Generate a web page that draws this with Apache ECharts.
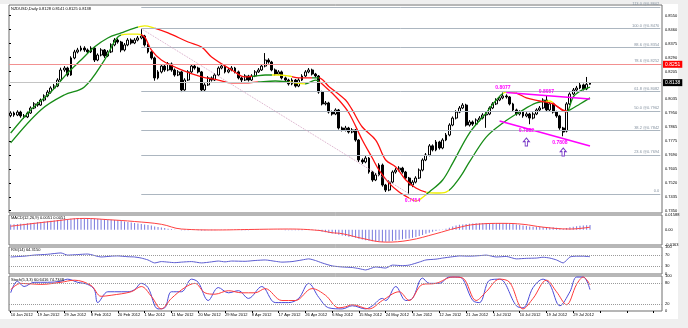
<!DOCTYPE html>
<html><head><meta charset="utf-8">
<script src="https://cdn.jsdelivr.net/npm/echarts/dist/echarts.min.js"></script>
<style>
html,body{margin:0;padding:0;background:#efefef;}
#paper{position:absolute;left:0;top:4px;width:678px;height:315px;background:#fff;}
#c{position:absolute;left:0;top:0;width:688px;height:328px;}
</style></head>
<body><div id="paper"></div><div id="c"></div>
<script>
// ---------- data ----------
const tickLabels = ['10 Jan 2012','19 Jan 2012','29 Jan 2012','8 Feb 2012','20 Feb 2012','1 Mar 2012','11 Mar 2012','20 Mar 2012','29 Mar 2012','8 Apr 2012','17 Apr 2012','26 Apr 2012','6 May 2012','15 May 2012','24 May 2012','3 Jun 2012','12 Jun 2012','21 Jun 2012','1 Jul 2012','10 Jul 2012','19 Jul 2012','29 Jul 2012'];
const priceLabels = ['0.8550','0.8460','0.8375','0.8290','0.8205','0.8120','0.8035','0.7950','0.7865','0.7775','0.7690','0.7605','0.7520','0.7435','0.7350'];

const opens = [0.7935,0.7951,0.7939,0.7957,0.7933,0.7927,0.7951,0.7982,0.8007,0.8000,
0.8031,0.8056,0.8080,0.8105,0.8117,0.8154,0.8216,0.8228,0.8185,0.8290,
0.8327,0.8339,0.8351,0.8339,0.8327,0.8351,0.8277,0.8308,0.8339,0.8302,
0.8327,0.8370,0.8400,0.8388,0.8339,0.8370,0.8400,0.8382,0.8400,0.8413,
0.8425,0.8370,0.8327,0.8290,0.8167,0.8204,0.8240,0.8216,0.8253,0.8216,
0.8185,0.8204,0.8093,0.8154,0.8204,0.8240,0.8228,0.8204,0.8093,0.8124,
0.8167,0.8154,0.8185,0.8228,0.8240,0.8204,0.8216,0.8228,0.8204,0.8167,
0.8154,0.8179,0.8154,0.8179,0.8204,0.8216,0.8240,0.8277,0.8265,0.8216,
0.8191,0.8204,0.8167,0.8154,0.8130,0.8154,0.8117,0.8154,0.8179,0.8204,
0.8216,0.8191,0.8179,0.8080,0.8007,0.8013,0.7957,0.7945,0.7970,0.7859,
0.7847,0.7859,0.7834,0.7847,0.7785,0.7662,0.7650,0.7674,0.7588,0.7539,
0.7570,0.7631,0.7508,0.7477,0.7526,0.7588,0.7600,0.7612,0.7588,0.7551,
0.7508,0.7526,0.7551,0.7600,0.7662,0.7693,0.7749,0.7724,0.7773,0.7736,
0.7785,0.7816,0.7877,0.7920,0.7957,0.7982,0.8000,0.7877,0.7896,0.7883,
0.7908,0.7920,0.7939,0.7945,0.7982,0.8007,0.8031,0.8044,0.8056,0.8050,
0.8007,0.7970,0.7945,0.7957,0.7933,0.7945,0.7920,0.7945,0.7970,0.7982,
0.8031,0.7970,0.8007,0.7957,0.7933,0.7859,0.7840,0.8007,0.8068,0.8093,
0.8105,0.8124,0.8099,0.8128];
const closes = [0.7951,0.7939,0.7957,0.7933,0.7927,0.7951,0.7982,0.8007,0.8000,0.8031,
0.8056,0.8080,0.8105,0.8117,0.8154,0.8216,0.8228,0.8185,0.8290,0.8327,
0.8339,0.8351,0.8339,0.8327,0.8351,0.8277,0.8308,0.8339,0.8302,0.8327,
0.8370,0.8400,0.8388,0.8339,0.8370,0.8400,0.8382,0.8400,0.8413,0.8425,
0.8370,0.8327,0.8290,0.8167,0.8204,0.8240,0.8216,0.8253,0.8216,0.8185,
0.8204,0.8093,0.8154,0.8204,0.8240,0.8228,0.8204,0.8093,0.8124,0.8167,
0.8154,0.8185,0.8228,0.8240,0.8204,0.8216,0.8228,0.8204,0.8167,0.8154,
0.8179,0.8154,0.8179,0.8204,0.8216,0.8240,0.8277,0.8265,0.8216,0.8191,
0.8204,0.8167,0.8154,0.8130,0.8154,0.8117,0.8154,0.8179,0.8204,0.8216,
0.8191,0.8179,0.8080,0.8007,0.8013,0.7957,0.7945,0.7970,0.7859,0.7847,
0.7859,0.7834,0.7847,0.7785,0.7662,0.7650,0.7674,0.7588,0.7539,0.7570,
0.7631,0.7508,0.7477,0.7526,0.7588,0.7600,0.7612,0.7588,0.7551,0.7508,
0.7526,0.7551,0.7600,0.7662,0.7693,0.7749,0.7724,0.7773,0.7736,0.7785,
0.7816,0.7877,0.7920,0.7957,0.7982,0.8000,0.7877,0.7896,0.7883,0.7908,
0.7920,0.7939,0.7945,0.7982,0.8007,0.8031,0.8044,0.8056,0.8050,0.8007,
0.7970,0.7945,0.7957,0.7933,0.7945,0.7920,0.7945,0.7970,0.7982,0.8031,
0.7970,0.8007,0.7957,0.7933,0.7859,0.7834,0.8007,0.8068,0.8093,0.8105,
0.8124,0.8099,0.8128,0.8138];
const highs = [0.7962,0.7960,0.7968,0.7965,0.7945,0.7960,0.7992,0.8018,0.8020,0.8040,
0.8066,0.8092,0.8115,0.8130,0.8165,0.8230,0.8240,0.8236,0.8300,0.8340,
0.8352,0.8365,0.8362,0.8348,0.8362,0.8358,0.8318,0.8350,0.8345,0.8338,
0.8380,0.8412,0.8410,0.8395,0.8382,0.8412,0.8410,0.8412,0.8425,0.8470,
0.8432,0.8378,0.8335,0.8298,0.8215,0.8252,0.8250,0.8265,0.8262,0.8225,
0.8215,0.8210,0.8165,0.8215,0.8252,0.8250,0.8236,0.8210,0.8135,0.8178,
0.8176,0.8196,0.8238,0.8252,0.8248,0.8228,0.8240,0.8235,0.8212,0.8175,
0.8190,0.8186,0.8190,0.8215,0.8228,0.8252,0.8320,0.8288,0.8272,0.8225,
0.8215,0.8212,0.8175,0.8162,0.8165,0.8160,0.8165,0.8190,0.8215,0.8228,
0.8224,0.8198,0.8185,0.8088,0.8025,0.8020,0.7966,0.7980,0.7976,0.7868,
0.7872,0.7866,0.7858,0.7852,0.7790,0.7672,0.7686,0.7680,0.7595,0.7582,
0.7642,0.7640,0.7515,0.7538,0.7598,0.7612,0.7624,0.7620,0.7595,0.7558,
0.7538,0.7562,0.7610,0.7672,0.7705,0.7760,0.7758,0.7785,0.7780,0.7796,
0.7828,0.7888,0.7930,0.7968,0.7994,0.8012,0.8008,0.7908,0.7905,0.7918,
0.7932,0.7950,0.7956,0.7992,0.8018,0.8042,0.8055,0.8077,0.8066,0.8056,
0.8014,0.7978,0.7968,0.7965,0.7956,0.7952,0.7956,0.7980,0.7994,0.8042,
0.8057,0.8018,0.8014,0.7965,0.7940,0.7866,0.8018,0.8078,0.8105,0.8118,
0.8136,0.8132,0.8173,0.8141];
const lows = [0.7925,0.7928,0.7932,0.7922,0.7915,0.7920,0.7945,0.7975,0.7990,0.7995,
0.8022,0.8048,0.8070,0.8095,0.8110,0.8145,0.8205,0.8175,0.8180,0.8282,
0.8318,0.8330,0.8328,0.8315,0.8320,0.8265,0.8270,0.8300,0.8290,0.8295,
0.8320,0.8362,0.8378,0.8325,0.8330,0.8362,0.8372,0.8375,0.8392,0.8405,
0.8360,0.8318,0.8280,0.8150,0.8158,0.8195,0.8205,0.8208,0.8205,0.8175,
0.8178,0.8080,0.8088,0.8148,0.8198,0.8218,0.8195,0.8082,0.8085,0.8118,
0.8145,0.8148,0.8180,0.8220,0.8195,0.8196,0.8208,0.8195,0.8158,0.8140,
0.8148,0.8145,0.8148,0.8172,0.8198,0.8210,0.8232,0.8255,0.8208,0.8182,
0.8184,0.8158,0.8145,0.8120,0.8122,0.8108,0.8110,0.8148,0.8172,0.8196,
0.8182,0.8170,0.8070,0.7998,0.7998,0.7948,0.7935,0.7938,0.7850,0.7838,
0.7838,0.7825,0.7826,0.7775,0.7650,0.7638,0.7642,0.7578,0.7528,0.7532,
0.7562,0.7498,0.7465,0.7470,0.7518,0.7578,0.7592,0.7578,0.7540,0.7454,
0.7495,0.7518,0.7545,0.7592,0.7655,0.7685,0.7715,0.7716,0.7726,0.7728,
0.7778,0.7808,0.7870,0.7912,0.7950,0.7975,0.7868,0.7868,0.7872,0.7875,
0.7900,0.7912,0.7860,0.7938,0.7975,0.8000,0.8024,0.8036,0.8040,0.7998,
0.7960,0.7935,0.7936,0.7922,0.7925,0.7882,0.7912,0.7938,0.7962,0.7975,
0.7962,0.7962,0.7948,0.7922,0.7848,0.7808,0.7832,0.8000,0.8060,0.8085,
0.8098,0.8090,0.8092,0.8125];

// moving averages [bar index, price]
const maSlow = [[0,0.7828],[6,0.7970],[12,0.8080],[17,0.8197],[21,0.8277],[25,0.8357],[29,0.8413],[33,0.8444],[37,0.8474],[40,0.8487],[42,0.8480],[47,0.8444],[53,0.8388],[57,0.8357],[60,0.8296],[66,0.8216],[70,0.8173],[73,0.8179],[76,0.8185],[80,0.8185],[83,0.8179],[86,0.8167],[89,0.8167],[92,0.8167],[95,0.8115],[100,0.8031],[102,0.7970],[105,0.7865],[109,0.7785],[112,0.7662],[115,0.7619],[118,0.7539],[121,0.7490],[124,0.7465],[127,0.7459],[130,0.7465],[134,0.7551],[137,0.7650],[142,0.7803],[147,0.7890],[152,0.7957],[157,0.8013],[161,0.8025],[163,0.7994],[166,0.7964],[167,0.7970],[170,0.8007],[173,0.8044]];
const maFast = [[0,0.7767],[9,0.7970],[16,0.8062],[22,0.8111],[28,0.8277],[32,0.8419],[35,0.8437],[38,0.8437],[40,0.8419],[42,0.8339],[45,0.8277],[51,0.8216],[57,0.8173],[62,0.8154],[66,0.8136],[70,0.8136],[74,0.8142],[79,0.8148],[83,0.8142],[88,0.8130],[91,0.8154],[94,0.8111],[98,0.8031],[101,0.7951],[105,0.7785],[108,0.7674],[110,0.7600],[113,0.7520],[116,0.7465],[119,0.7428],[121,0.7410],[122,0.7416],[125,0.7465],[129,0.7539],[132,0.7643],[137,0.7828],[142,0.7951],[145,0.8031],[148,0.8080],[151,0.8074],[154,0.8044],[158,0.8025],[162,0.8007],[165,0.7964],[166,0.7958],[168,0.8050],[170,0.8086],[173,0.8111]];
const slowTurns = [38,43,72,78,84,90,92,124,131,160,162,166];
const slowStates = ['g','y','r','g','y','r','g','r','y','g','y','r','g'];
const fastTurns = [33,39,74,83,88,92,119,124,147,151,166];
const fastStates = ['g','y','r','g','y','g','r','y','g','y','r','g'];

// trend lines and annotations
const upperTrend = [[148,0.8077],[173,0.8037]];
const lowerTrend = [[146,0.7902],[173,0.7748]];
const highMarks = [[147,0.8077],[160,0.8057]];
const lowMarks = [[154,0.7882],[164,0.7808],[120,0.7454]];
const arrowMarks = [[154,0.7773],[165,0.7711]];

// fibonacci
const fibStart = 39, fibEnd = 119;
const fibHigh = 0.8470, fibLow = 0.7454;
const fibPrices = [0.8602,0.8470,0.8354,0.8252,0.8082,0.7962,0.7842,0.7694,0.7454];
const fibTexts = ['113.0 @0.8602','100.0 @0.8470','88.6 @0.8354','78.6 @0.8252','61.8 @0.8082','50.0 @0.7962','38.2 @0.7842','23.6 @0.7694','0.0'];
const redLevel = 0.8251;
const bidLevel = 0.8138;

// indicators
const macdHist = [0.0058,0.0060,0.0062,0.0064,0.0066,0.0069,0.0072,0.0076,0.0080,0.0084,
0.0088,0.0092,0.0096,0.0100,0.0104,0.0110,0.0114,0.0115,0.0119,0.0122,
0.0124,0.0125,0.0125,0.0124,0.0123,0.0119,0.0117,0.0115,0.0112,0.0110,
0.0108,0.0106,0.0102,0.0096,0.0090,0.0084,0.0078,0.0073,0.0068,0.0063,
0.0058,0.0052,0.0045,0.0036,0.0030,0.0024,0.0018,0.0012,0.0007,0.0003,
0.0000,-0.0004,-0.0005,-0.0004,-0.0003,-0.0003,-0.0004,-0.0007,-0.0007,-0.0006,
-0.0005,-0.0004,-0.0003,-0.0002,-0.0002,-0.0002,-0.0001,-0.0002,-0.0003,-0.0004,
-0.0004,-0.0004,-0.0003,-0.0002,-0.0002,-0.0001,0.0001,0.0001,0.0000,-0.0001,
-0.0002,-0.0003,-0.0004,-0.0005,-0.0005,-0.0006,-0.0005,-0.0004,-0.0003,-0.0003,
-0.0003,-0.0005,-0.0012,-0.0020,-0.0027,-0.0034,-0.0040,-0.0044,-0.0054,-0.0062,
-0.0068,-0.0074,-0.0079,-0.0087,-0.0098,-0.0106,-0.0112,-0.0118,-0.0124,-0.0127,
-0.0130,-0.0132,-0.0130,-0.0125,-0.0120,-0.0114,-0.0108,-0.0102,-0.0097,-0.0093,
-0.0086,-0.0078,-0.0068,-0.0056,-0.0044,-0.0032,-0.0022,-0.0013,-0.0005,0.0002,
0.0012,0.0022,0.0035,0.0045,0.0053,0.0058,0.0062,0.0066,0.0068,0.0070,
0.0071,0.0072,0.0073,0.0073,0.0074,0.0074,0.0074,0.0073,0.0071,0.0068,
0.0064,0.0058,0.0052,0.0046,0.0040,0.0035,0.0032,0.0030,0.0029,0.0029,
0.0028,0.0028,0.0026,0.0022,0.0016,0.0010,0.0018,0.0026,0.0033,0.0038,
0.0042,0.0046,0.0049,0.0051];
const macdSignal = [[0,0.0038],[12,0.0089],[22,0.0122],[29,0.0109],[37,0.0089],[45,0.0059],[51,0.0008],[62,-0.0002],[71,0.0003],[83,0.0008],[92,-0.0007],[96,-0.0032],[99,-0.0042],[105,-0.0093],[112,-0.0133],[119,-0.0113],[127,-0.0042],[133,0.0018],[139,0.0059],[147,0.0069],[153,0.0059],[159,0.0028],[167,0.0008],[173,0.0028]];
const rsi = [[0,63],[4,66],[7,70],[11,73],[15,78],[17,70],[20,72],[23,74],[27,63],[30,66],[32,67],[35,64],[37,63],[39,59],[41,52],[43,41],[45,46],[47,44],[49,42],[51,44],[54,46],[57,41],[60,45],[62,48],[64,45],[66,48],[70,47],[73,50],[76,52],[79,47],[81,44],[84,46],[87,52],[89,56],[91,50],[93,41],[96,30],[99,26],[102,24],[104,20],[106,15],[109,26],[112,22],[114,33],[117,31],[119,33],[122,44],[124,52],[127,55],[129,59],[132,64],[134,67],[137,66],[140,68],[142,70],[145,63],[148,65],[151,56],[154,58],[157,59],[159,62],[161,59],[163,52],[165,41],[167,63],[169,66],[171,66],[173,64]];
const stochMain = [[0,52],[2,85],[4,70],[7,82],[11,82],[15,85],[17,91],[20,82],[23,76],[25,61],[26,24],[29,55],[31,55],[35,55],[37,61],[39,79],[41,67],[44,6],[46,9],[48,55],[51,55],[54,91],[56,82],[59,30],[62,67],[65,52],[68,58],[71,36],[75,70],[79,24],[83,24],[86,36],[89,79],[92,39],[95,9],[99,6],[102,15],[106,6],[108,15],[111,36],[112,30],[115,70],[118,30],[120,36],[123,94],[125,79],[128,79],[131,97],[134,97],[138,30],[140,24],[143,88],[146,91],[151,15],[153,9],[156,67],[159,91],[161,76],[164,15],[167,55],[169,97],[171,97],[173,61]];
const stochSignal = [[0,61],[3,79],[9,76],[15,82],[19,88],[24,73],[27,42],[30,45],[36,55],[39,70],[42,42],[45,6],[48,36],[52,67],[55,79],[58,52],[61,48],[65,58],[69,52],[73,52],[76,64],[81,30],[85,30],[90,64],[94,45],[98,9],[100,12],[102,18],[107,6],[111,30],[116,55],[119,30],[123,76],[127,79],[132,97],[135,94],[139,30],[142,55],[146,91],[149,82],[153,6],[156,36],[160,88],[163,55],[166,18],[169,76],[171,97],[173,75]];

// ---------- chart ----------
const FONT = 'Liberation Sans, Arial, sans-serif';
const N = 195;
const categories = Array.from({length: N}, (_, i) => String(i));
const candles = opens.map((o, i) => [o, closes[i], lows[i], highs[i]]);
const GREEN = '#178c17', RED = '#ff1010', YELLOW = '#eeee00';
function pieces(turns, states) {
  const col = {g: GREEN, y: YELLOW, r: RED};
  return states.map((s, k) => {
    const p = {color: col[s]};
    if (k > 0) p.gte = turns[k - 1];
    if (k < turns.length) p.lt = turns[k];
    return p;
  });
}
const L = 9, R = 26;
const grids = [
  {left: L, right: R, top: 5, height: 208},
  {left: L, right: R, top: 215, height: 30},
  {left: L, right: R, top: 247, height: 27},
  {left: L, right: R, top: 276, height: 35}
].map(g => Object.assign({show: true, borderColor: '#6e6e6e', borderWidth: 1, backgroundColor: 'transparent'}, g));
grids.push({left: L, right: R, top: 15.70, height: 195.0, show: false});

function catAxis(gi, showLabels) {
  return {
    type: 'category', gridIndex: gi, data: categories, boundaryGap: true,
    axisLine: {show: false},
    axisTick: {show: showLabels, interval: 7, alignWithLabel: true, length: 2, lineStyle: {color: '#000'}},
    axisLabel: {show: showLabels, interval: 7, align: 'left', fontSize: 4, color: '#000', margin: 2, fontFamily: FONT,
      formatter: (v, idx) => (idx % 8 === 0 && idx / 8 < tickLabels.length) ? tickLabels[idx / 8] : ''},
    splitLine: {show: false}
  };
}
const smallLbl = {fontSize: 4, color: '#000', fontFamily: FONT, margin: 3};

const fibMarkData = fibPrices.map((p, k) => [
  {coord: [fibStart, p], label: {formatter: fibTexts[k]}},
  {coord: [N - 1, p]}
]);
fibMarkData.push([
  {coord: [fibStart, fibHigh], lineStyle: {type: 'dotted', color: '#d6a8c6'}, label: {show: false}},
  {coord: [fibEnd, fibLow]}
]);
fibMarkData.push({yAxis: bidLevel, lineStyle: {color: '#c4c4c4'},
  label: {position: 'end', formatter: '0.8138', backgroundColor: '#000', color: '#fff', padding: [1, 2], fontSize: 5, distance: 1}});
fibMarkData.push({yAxis: redLevel, lineStyle: {color: '#f29090'},
  label: {position: 'end', formatter: '0.8251', backgroundColor: '#ff0000', color: '#fff', padding: [1, 2], fontSize: 5, distance: 1}});

const arrowPath = 'path://M5,0 L10,5 L7,5 L7,11 L3,11 L3,5 L0,5 Z';

const option = {
  animation: false,
  backgroundColor: 'transparent',
  textStyle: {fontFamily: FONT},
  title: [
    {text: 'NZDUSD,Daily 0.8128 0.8141 0.8125 0.8138', left: 11, top: 7},
    {text: 'MACD(12,26,9) 0.0051 0.0051', left: 11, top: 216},
    {text: 'RSI(14) 64.3150', left: 11, top: 248},
    {text: 'Stoch(5,3,3) 60.6416 74.7348', left: 11, top: 278}
  ].map(t => Object.assign({padding: 0, textStyle: {fontSize: 4, color: '#000', fontWeight: 'normal', fontFamily: FONT}}, t)),
  grid: grids,
  xAxis: [catAxis(0, false), catAxis(1, false), catAxis(2, false), catAxis(3, true),
    {type: 'value', gridIndex: 4, show: false, min: 0, max: 1}],
  yAxis: [
    {type: 'value', gridIndex: 0, min: 0.733585, max: 0.86158, show: false, scale: true},
    {type: 'value', gridIndex: 1, position: 'right', min: -0.0164, max: 0.0159, interval: 0.0164,
      axisLine: {show: false}, axisTick: {show: false}, splitLine: {show: false},
      axisLabel: Object.assign({showMinLabel: true, showMaxLabel: true,
        formatter: v => Math.abs(v) < 1e-7 ? '0.00' : (v > 0 ? '0.01588' : '-0.0163')}, smallLbl)},
    {type: 'value', gridIndex: 2, position: 'right', min: 0, max: 100, interval: 10,
      axisLine: {show: false}, axisTick: {show: false}, splitLine: {show: false},
      axisLabel: Object.assign({formatter: v => [0, 30, 70, 100].includes(Math.round(v)) ? String(Math.round(v)) : ''}, smallLbl)},
    {type: 'value', gridIndex: 3, position: 'right', min: 0, max: 100, interval: 10,
      axisLine: {show: false}, axisTick: {show: false}, splitLine: {show: false},
      axisLabel: Object.assign({formatter: v => [0, 20, 80, 100].includes(Math.round(v)) ? String(Math.round(v)) : ''}, smallLbl)},
    {type: 'value', gridIndex: 4, position: 'right', min: 0, max: 14, interval: 1,
      axisLine: {show: false}, axisTick: {show: true, length: 2, lineStyle: {color: '#000'}}, splitLine: {show: false},
      axisLabel: Object.assign({formatter: v => { const k = Math.round(v); return (Math.abs(v - k) < 1e-6 && k >= 0 && k <= 14) ? priceLabels[14 - k] : ''; }}, smallLbl)}
  ],
  visualMap: [
    {type: 'piecewise', show: false, seriesIndex: 2, dimension: 0, pieces: pieces(slowTurns, slowStates)},
    {type: 'piecewise', show: false, seriesIndex: 3, dimension: 0, pieces: pieces(fastTurns, fastStates)}
  ],
  series: [
    {name: 'levels', type: 'line', xAxisIndex: 0, yAxisIndex: 0, z: 1, silent: true, symbol: 'none',
      data: closes.map((c, i) => [i, c]), lineStyle: {opacity: 0},
      markLine: {silent: true, precision: 6, symbol: ['none', 'none'], animation: false,
        lineStyle: {color: '#acb6c0', width: 1, type: 'solid'},
        label: {position: 'insideEndTop', fontSize: 4, color: '#8592a0', distance: 1, fontFamily: FONT},
        data: fibMarkData}},
    {name: 'price', type: 'candlestick', xAxisIndex: 0, yAxisIndex: 0, z: 2, barWidth: 2.4, data: candles,
      itemStyle: {color: '#ffffff', color0: '#000000', borderColor: '#000000', borderColor0: '#000000', borderWidth: 1},
      markPoint: {symbol: 'circle', symbolSize: 0, silent: true, animation: false,
        label: {color: '#ff00ff', fontSize: 5, fontWeight: 'bold', fontFamily: FONT},
        data: highMarks.map(p => ({coord: p, value: p[1].toFixed(4), label: {position: 'top', distance: 2, formatter: p[1].toFixed(4)}}))
          .concat(lowMarks.map(p => ({coord: p, value: p[1].toFixed(4), label: {position: 'bottom', distance: 4, formatter: p[1].toFixed(4)}})))}},
    {name: 'maSlow', type: 'line', xAxisIndex: 0, yAxisIndex: 0, z: 3, symbol: 'none', smooth: 0.35, data: maSlow, lineStyle: {width: 1.3}},
    {name: 'maFast', type: 'line', xAxisIndex: 0, yAxisIndex: 0, z: 3, symbol: 'none', smooth: 0.35, data: maFast, lineStyle: {width: 1.3}},
    {name: 'upperTrend', type: 'line', xAxisIndex: 0, yAxisIndex: 0, z: 4, symbol: 'none', data: upperTrend, lineStyle: {color: '#ff00ff', width: 1.6}},
    {name: 'lowerTrend', type: 'line', xAxisIndex: 0, yAxisIndex: 0, z: 4, symbol: 'none', data: lowerTrend, lineStyle: {color: '#ff00ff', width: 1.6},
      markPoint: {symbol: arrowPath, symbolSize: [6, 8], silent: true, animation: false, label: {show: false},
        itemStyle: {color: '#ffffff', borderColor: '#7a3cc8', borderWidth: 1},
        data: arrowMarks.map(p => ({coord: p}))}},
    {name: 'macd', type: 'bar', xAxisIndex: 1, yAxisIndex: 1, barWidth: 1, data: macdHist, itemStyle: {color: '#7777dd'}},
    {name: 'signal', type: 'line', xAxisIndex: 1, yAxisIndex: 1, symbol: 'none', smooth: 0.4, data: macdSignal, lineStyle: {color: '#ff4040', width: 1}},
    {name: 'rsi', type: 'line', xAxisIndex: 2, yAxisIndex: 2, symbol: 'none', smooth: 0.2, data: rsi, lineStyle: {color: '#5a5ad0', width: 1},
      markLine: {silent: true, symbol: ['none', 'none'], label: {show: false}, lineStyle: {type: 'dotted', color: '#9a9a9a', width: 1},
        data: [{yAxis: 70}, {yAxis: 30}]}},
    {name: 'stochMain', type: 'line', xAxisIndex: 3, yAxisIndex: 3, symbol: 'none', smooth: 0.35, data: stochMain, lineStyle: {color: '#4a4ad8', width: 1},
      markLine: {silent: true, symbol: ['none', 'none'], label: {show: false}, lineStyle: {type: 'dotted', color: '#9a9a9a', width: 1},
        data: [{yAxis: 80}, {yAxis: 20}]}},
    {name: 'stochSignal', type: 'line', xAxisIndex: 3, yAxisIndex: 3, symbol: 'none', smooth: 0.35, data: stochSignal, lineStyle: {color: '#ff3a3a', width: 1}}
  ]
};
const chart = echarts.init(document.getElementById('c'), null, {renderer: 'canvas'});
chart.setOption(option);
</script>
</body></html>
